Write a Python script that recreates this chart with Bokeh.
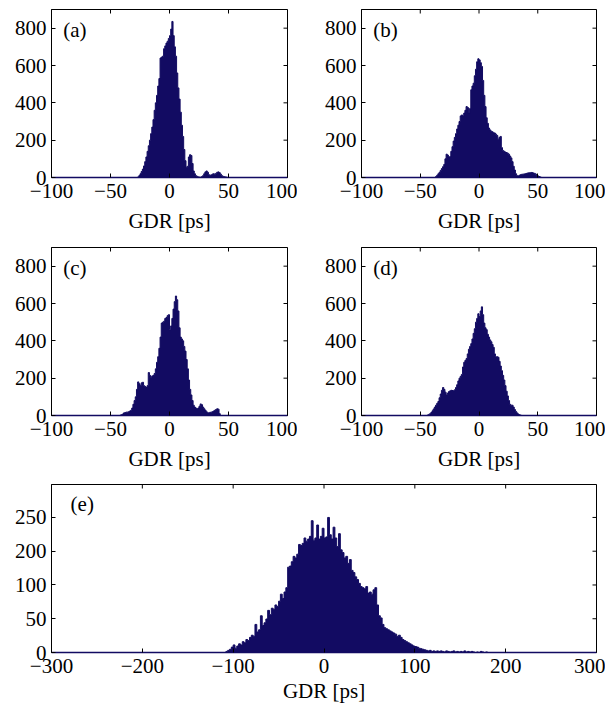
import math
from bokeh.plotting import figure
from bokeh.models import Range1d, FixedTicker, Label, ColumnDataSource
from bokeh.layouts import column, row
from bokeh.embed import file_html
from bokeh.resources import INLINE

# ---------------- data (histogram counts) ----------------
xticks_small = [-100, -50, 0, 50, 100]
xticks_big = [-300, -200, -100, 0, 100, 200, 300]
yticks_small = [0, 200, 400, 600, 800]
# panel (e): tick positions and the (odd) labels printed on the original axis
yticks_e = [0, 62.5, 125, 187.5, 250]
ylabels_e = ["0", "50", "100", "200", "250"]

bin_w_small = 1.0   # ps
bin_w_e = 2.0       # ps

a_start = -27
a_counts = [3, 10, 20, 32, 45, 62, 85, 110, 140, 170, 200, 235, 270, 310, 360, 400,
            440, 490, 530, 640, 645, 650, 690, 705, 720, 730, 745, 760, 795, 836, 760,
            700, 650, 560, 480, 420, 350, 280, 220, 150, 90, 55, 60, 110, 122, 118, 75,
            35, 20, 10, 6, 3, 2, 1, 5, 10, 20, 30, 35, 28, 15, 12, 14, 18, 20, 18, 22,
            28, 30, 26, 18, 10, 6, 4, 3, 2]

b_start = -37
b_counts = [5, 12, 20, 28, 38, 48, 58, 70, 100, 125, 120, 110, 112, 140, 165, 195,
            215, 235, 260, 280, 300, 330, 335, 330, 345, 360, 380, 375, 345, 370, 470,
            490, 505, 545, 580, 620, 636, 630, 615, 595, 520, 440, 380, 320, 290, 265,
            255, 248, 245, 240, 238, 232, 225, 205, 215, 220, 160, 145, 140, 136, 134,
            130, 125, 115, 105, 85, 60, 40, 20, 10, 8, 12, 15, 17, 18, 19, 20, 22, 24,
            25, 26, 27, 26, 24, 22, 18, 12, 8, 5, 2]

c_start = -42
c_counts = [2, 4, 8, 14, 16, 18, 18, 20, 24, 28, 40, 60, 80, 100, 140, 180, 170, 160,
            175, 178, 160, 155, 150, 160, 230, 215, 205, 212, 215, 225, 250, 285, 315,
            360, 420, 495, 500, 505, 520, 525, 535, 540, 460, 480, 520, 570, 610, 640,
            620, 560, 470, 420, 410, 400, 370, 345, 300, 250, 190, 140, 110, 80, 55, 45,
            40, 36, 40, 50, 62, 58, 45, 36, 28, 20, 15, 15, 17, 18, 20, 24, 28, 32, 36,
            34, 10]

d_start = -44
d_counts = [3, 6, 10, 16, 25, 35, 45, 55, 65, 75, 95, 115, 135, 150, 140, 125, 110,
            120, 128, 132, 135, 134, 133, 138, 150, 165, 185, 200, 210, 220, 260, 285,
            295, 305, 330, 355, 370, 385, 410, 440, 465, 500, 520, 545, 530, 560, 582,
            540, 495, 470, 460, 435, 420, 405, 395, 380, 365, 330, 315, 315, 312, 290,
            265, 240, 215, 190, 160, 130, 105, 80, 60, 55, 55, 45, 32, 22, 14, 8, 4, 2]

e_start = -108
e_counts = [2, 4, 6, 10, 14, 8, 12, 16, 14, 20, 18, 24, 22, 28, 32, 30, 52, 38, 42,
            68, 50, 55, 62, 78, 70, 82, 80, 88, 85, 95, 108, 100, 112, 120, 158, 160,
            168, 178, 175, 182, 200, 198, 202, 212, 206, 210, 215, 244, 208, 212, 236,
            210, 215, 230, 212, 214, 250, 218, 210, 232, 212, 196, 220, 190, 185, 175,
            178, 165, 172, 152, 148, 140, 135, 128, 122, 120, 118, 122, 110, 112, 108,
            116, 120, 88, 68, 64, 52, 46, 44, 42, 40, 38, 36, 34, 30, 32, 28, 24, 22, 20,
            18, 16, 14, 12, 11, 10, 8, 7, 6, 5, 4, 3, 4, 2, 3, 2, 3, 2, 3, 2, 1, 3, 2, 1,
            2, 3, 1, 2, 1, 2, 1, 3, 1, 2, 1, 2, 1, 0, 1, 0, 2, 1, 0, 1]

# ---------------- styling ----------------
NAVY = "#120b62"
FONT = "Liberation Serif"
FS = "21px"


def padded(start, counts, lo, hi, w):
    n = int(round((hi - lo) / w))
    full = [0.0] * n
    i0 = int(round((start - lo) / w))
    for k, c in enumerate(counts):
        if 0 <= i0 + k < n:
            full[i0 + k] = c
    edges = [lo + i * w for i in range(n + 1)]
    return ColumnDataSource(dict(x=edges, y=full + [0.0], y0=[0.0] * (n + 1)))


def style_axis(ax):
    ax.major_tick_in = 4
    ax.major_tick_out = 0
    ax.minor_tick_in = 0
    ax.minor_tick_out = 0
    ax.axis_line_color = "black"
    ax.major_tick_line_color = "black"
    ax.major_label_text_font = FONT
    ax.major_label_text_color = "black"
    ax.major_label_text_font_size = FS
    ax.axis_label_text_font = FONT
    ax.axis_label_text_font_style = "normal"
    ax.axis_label_text_font_size = FS
    ax.axis_label_text_color = "black"


def make_panel(src, xr, yr, xticks, yticks, ylabels, tag, tag_xy, fw, mbl, mbr, mbt, mbb,
               xlab_standoff=8):
    p = figure(frame_width=fw, frame_height=168, x_range=Range1d(*xr), y_range=Range1d(*yr),
               output_backend="svg", toolbar_location=None,
               min_border_left=mbl, min_border_right=mbr, min_border_top=mbt, min_border_bottom=mbb)
    p.xgrid.visible = False
    p.ygrid.visible = False
    p.outline_line_color = "black"
    p.outline_line_alpha = 1.0
    p.background_fill_color = "white"
    p.border_fill_color = "white"
    xover = {t: ("\u2212" + str(abs(t)) if t < 0 else str(t)) for t in xticks}
    yover = {t: l for t, l in zip(yticks, ylabels)}

    p.xaxis.ticker = FixedTicker(ticks=xticks)
    p.xaxis.major_label_overrides = xover
    p.yaxis.ticker = FixedTicker(ticks=yticks)
    p.yaxis.major_label_overrides = yover
    style_axis(p.xaxis[0])
    style_axis(p.yaxis[0])
    p.xaxis.major_label_standoff = 6
    p.xaxis.axis_label = "GDR [ps]"
    p.xaxis.axis_label_standoff = xlab_standoff
    p.yaxis.major_label_standoff = 5
    p.xaxis.axis_line_color = NAVY
    p.xaxis.axis_line_width = 1.5

    # solid histogram: filled step area plus step outline
    p.varea_step(x="x", y1="y0", y2="y", source=src, step_mode="after", fill_color=NAVY)
    p.step(x="x", y="y", source=src, mode="after", line_color=NAVY, line_width=1.0)

    # inward tick marks on the top and right edges (mirrors of the real axes)
    p.scatter(x=xticks, y=[yr[1]] * len(xticks), marker="dash", size=8, angle=math.pi / 2,
              line_color="black", line_width=1)
    p.scatter(x=[xr[1]] * len(yticks), y=yticks, marker="dash", size=8, angle=0,
              line_color="black", line_width=1)

    p.add_layout(Label(x=tag_xy[0], y=tag_xy[1], text=tag, text_font=FONT,
                       text_font_size=FS, text_baseline="middle", text_align="left",
                       text_color="black"))
    return p


pa = make_panel(padded(a_start, a_counts, -100, 100, bin_w_small), (-100, 100), (0, 900),
                xticks_small, yticks_small, [str(v) for v in yticks_small], "(a)", (-90, 790),
                236, 51, 10, 9, 63)
pb = make_panel(padded(b_start, b_counts, -100, 100, bin_w_small), (-100, 100), (0, 900),
                xticks_small, yticks_small, [str(v) for v in yticks_small], "(b)", (-90, 790),
                235, 64, 9, 9, 63)
pc = make_panel(padded(c_start, c_counts, -100, 100, bin_w_small), (-100, 100), (0, 900),
                xticks_small, yticks_small, [str(v) for v in yticks_small], "(c)", (-90, 790),
                236, 51, 10, 7, 62)
pd_ = make_panel(padded(d_start, d_counts, -100, 100, bin_w_small), (-100, 100), (0, 900),
                 xticks_small, yticks_small, [str(v) for v in yticks_small], "(d)", (-90, 790),
                 235, 64, 9, 7, 62)
pe = make_panel(padded(e_start, e_counts, -300, 300, bin_w_e), (-300, 300), (0, 311),
                xticks_big, yticks_e, ylabels_e, "(e)", (-279, 275),
                545, 51, 9, 7, 46, xlab_standoff=3)

layout = column(row(pa, pb), row(pc, pd_), pe, spacing=0)

with open("out.html", "w") as f:
    f.write(file_html(layout, INLINE))
